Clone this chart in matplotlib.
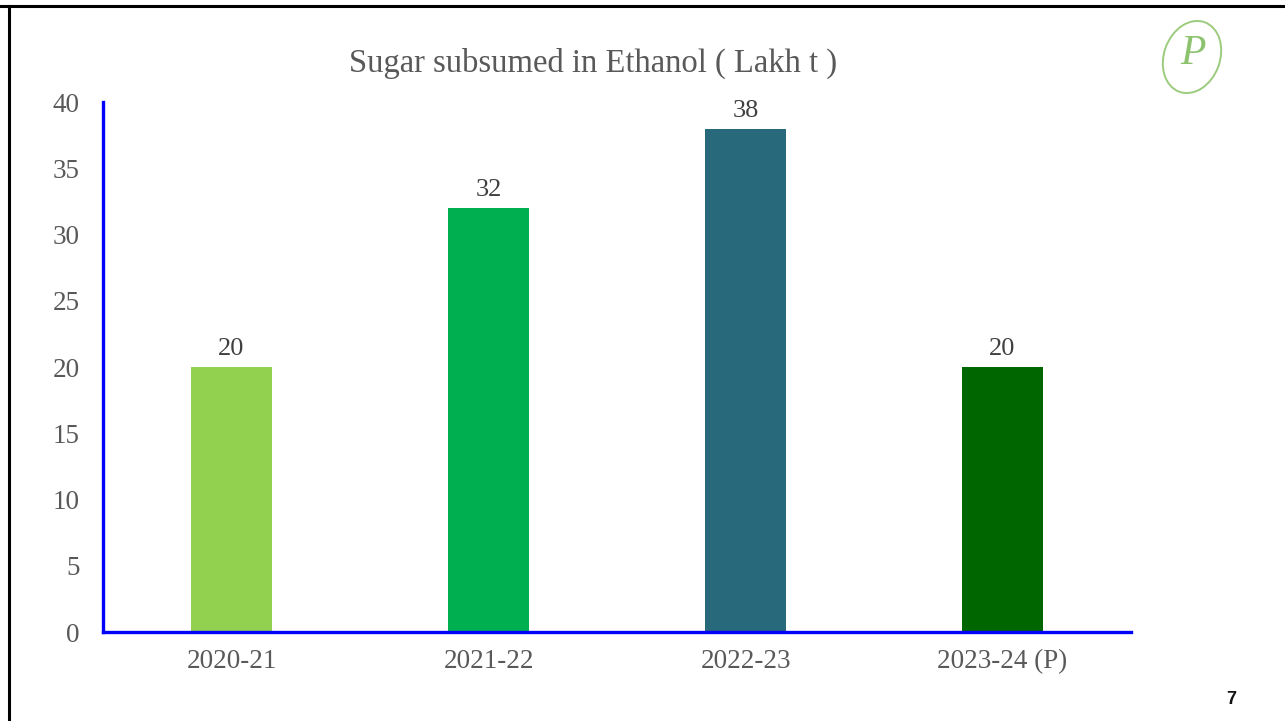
import matplotlib.pyplot as plt
from matplotlib.patches import Ellipse
from matplotlib.lines import Line2D

# data
seasons = ['2020-21', '2021-22', '2022-23', '2023-24 (P)']
sugar_lakh_t = [20, 32, 38, 20]
bar_colors = ['#92D050', '#00B050', '#286A7B', '#006600']
y_ticks = [0, 5, 10, 15, 20, 25, 30, 35, 40]

TEXT_GRAY = '#595959'
SERIF = ['Liberation Serif', 'DejaVu Serif']

fig = plt.figure(figsize=(12.85, 7.21), dpi=100)
ax = fig.add_axes([103 / 1285, 1 - 632 / 721, (1131 - 103) / 1285, (632 - 102) / 721])

x = range(len(seasons))
bars = ax.bar(x, sugar_lakh_t, width=0.315, color=bar_colors, zorder=2)

for b, v in zip(bars, sugar_lakh_t):
    ax.text(b.get_x() + b.get_width() / 2, v + 0.5, f'{v}', ha='center', va='bottom',
            fontsize=19, color='#404040', family=SERIF)

ax.set_xlim(-0.5, 3.5)
ax.set_ylim(0, 40)
ax.set_yticks(y_ticks)
ax.set_xticks(list(x))
ax.set_xticklabels(seasons)
ax.tick_params(length=0, labelsize=19.5, labelcolor=TEXT_GRAY)
ax.tick_params(axis='y', pad=17)
ax.tick_params(axis='x', pad=12)
for lbl in ax.get_xticklabels() + ax.get_yticklabels():
    lbl.set_family(SERIF)

for side in ['top', 'right']:
    ax.spines[side].set_visible(False)
for side in ['left', 'bottom']:
    ax.spines[side].set_color('#0000FF')
    ax.spines[side].set_linewidth(2.4)

fig.text(593 / 1285, 1 - 63 / 721, 'Sugar subsumed in Ethanol ( Lakh t )', ha='center', va='center',
         fontsize=23.5, color=TEXT_GRAY, family=SERIF)

# slide border lines
fig.add_artist(Line2D([0, 1], [1 - 6 / 721, 1 - 6 / 721], color='black', lw=2.2, transform=fig.transFigure))
fig.add_artist(Line2D([9 / 1285, 9 / 1285], [0, 1 - 6 / 721], color='black', lw=2.2, transform=fig.transFigure))

# logo
logo = fig.add_axes([1150 / 1285, 1 - 100 / 721, 80 / 1285, 85 / 721])
logo.set_xlim(0, 80)
logo.set_ylim(0, 85)
logo.axis('off')
logo.add_patch(Ellipse((42, 43), 56, 74, angle=-20, fill=False, ec='#9CCB7E', lw=1.4))
logo.text(43, 46, 'P', ha='center', va='center', fontsize=30, color='#8DC26F', style='italic',
          family=SERIF)

fig.text(1231 / 1285, 1 - 700 / 721, '7', ha='center', va='center', fontsize=13,
         fontweight='bold', color='#111111', family=['Liberation Sans', 'DejaVu Sans'])

fig.savefig('out.png', dpi=100)
